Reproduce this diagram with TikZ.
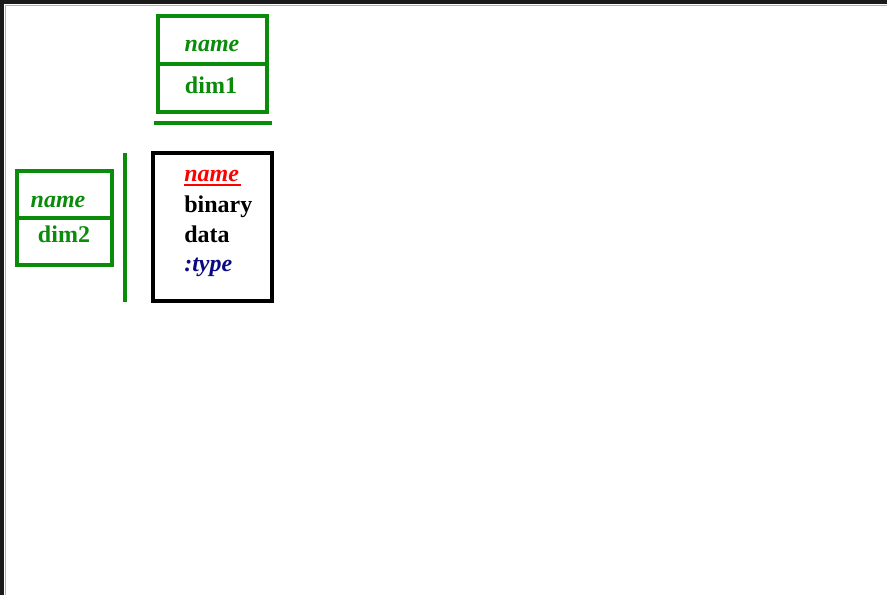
\documentclass[tikz,border=0pt]{standalone}
\usepackage{fontspec}
\setmainfont{Liberation Serif}
\definecolor{dgreen}{RGB}{10,140,10}
\definecolor{dnavy}{RGB}{10,10,130}
\definecolor{frame}{RGB}{26,26,26}
\tikzset{
  gline/.style={draw=dgreen, line width=2.3pt},
  bline/.style={draw=black, line width=2.3pt},
  txt/.style={font=\fontsize{18}{20}\selectfont\bfseries, inner sep=0pt, anchor=base},
  ltxt/.style={txt, anchor=base west},
}
\begin{document}
\begin{tikzpicture}[x=0.75pt,y=-0.75pt]
\useasboundingbox (0,0) rectangle (887,595);
\fill[white] (0,0) rectangle (887,595);
% frame
\fill[frame] (0,0) rectangle (887,4);
\fill[frame] (0,0) rectangle (4,595);
\draw[gray!60, line width=0.6pt] (5.5,595) -- (5.5,5.5) -- (887,5.5);
% dim1 box
\draw[gline] (158,16) rectangle (267,112);
\draw[gline] (158,64) -- (267,64);
\node[txt, text=dgreen] (d1name) at (212,52) {\itshape name};
\node[txt, text=dgreen] (d1) at (211,94) {dim1};
\draw[gline] (154,123) coordinate (u1) -- (272,123) coordinate (u2);
% dim2 box
\draw[gline] (17,171) rectangle (112,265);
\draw[gline] (17,218) -- (112,218);
\node[txt, text=dgreen] (d2name) at (58,207) {\itshape name};
\node[txt, text=dgreen] (d2) at (64,242) {dim2};
\draw[gline] (125,153) coordinate (v1) -- (125,302) coordinate (v2);
% data box
\draw[bline] (153,153) rectangle (272,301);
\node[ltxt, text=red] (nm) at (184,182) {\itshape name};
\draw[red, line width=1.6pt] ([yshift=-2.5pt]nm.base west) -- ([yshift=-2.5pt,xshift=1pt]nm.base east);
\node[ltxt] (bin) at (184,213) {binary};
\node[ltxt] (dat) at (184,242) {data};
\node[ltxt, text=dnavy] (typ) at (184,271) {\itshape :type};
\end{tikzpicture}
\end{document}
